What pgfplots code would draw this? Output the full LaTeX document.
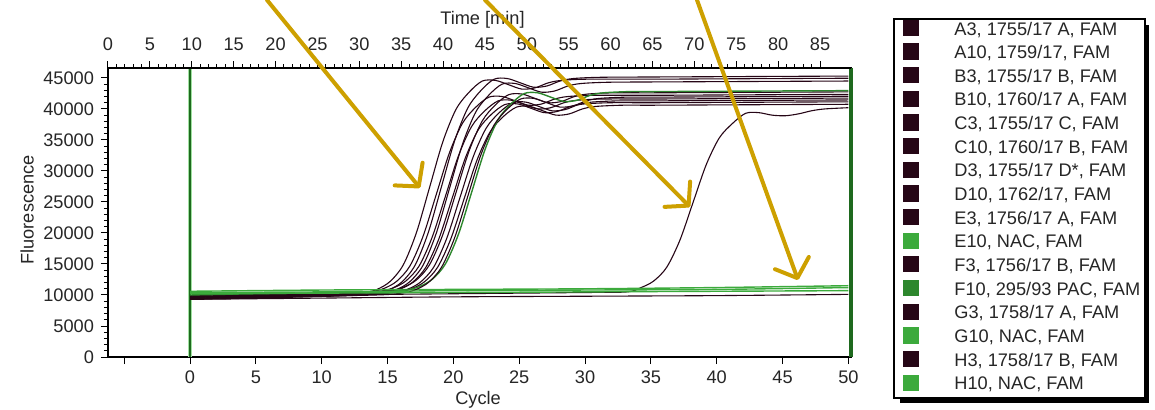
\documentclass[border=0pt]{standalone}
\usepackage{fontspec}
\setmainfont{Liberation Sans}
\usepackage{pgfplots}
\pgfplotsset{compat=1.18}
\usetikzlibrary{arrows.meta}

\definecolor{curve}{RGB}{38,6,22}
\definecolor{nac}{RGB}{60,170,60}
\definecolor{pac}{RGB}{45,135,45}
\definecolor{gline}{RGB}{30,105,30}
\definecolor{lgreen}{RGB}{160,225,160}
\definecolor{gold}{RGB}{205,160,0}
\newcommand{\fs}{\fontsize{9.1}{11}\selectfont}

\begin{document}
\begin{tikzpicture}
\useasboundingbox (-54pt,-26pt) rectangle (523.5pt,178.5pt);
% legend shadow
\fill[black] (396pt,-23pt) rectangle (520.5pt,166pt);
\begin{axis}[
  scale only axis, width=371.5pt, height=144.5pt,
  xmin=-6.23, xmax=50.2, ymin=0, ymax=46600,
  clip=false,
  axis line style={line width=1.3pt, black},
  tick pos=left, tick align=outside,
  major tick length=3.5pt, minor tick length=2pt,
  tick style={black, line width=0.5pt},
  xtick={-5,0,...,50},
  xticklabels={,0,5,10,15,20,25,30,35,40,45,50},
  ytick={0,5000,...,45000}, minor y tick num=4,
  scaled y ticks=false,
  yticklabel style={/pgf/number format/1000 sep={}},
  tick label style={font=\fs, text=black!85},
  /pgf/number format/assume math mode=true,
  xlabel={Cycle}, ylabel={Fluorescence},
  label style={font=\fs, text=black!85},
  xlabel style={at={(axis description cs:0.498,-0.149)}, anchor=center},
  ylabel style={at={(axis description cs:-0.109,0.509)}, anchor=center},
  legend cell align=left,
  legend image code/.code={\path (0pt,0pt); \fill[#1] (2pt,-2.25pt) rectangle (9.5pt,5.25pt);},
  legend style={at={(axis description cs:1.0565,1.173)}, anchor=north west,
    draw=black, line width=1pt, fill=white, font=\fs, text=black!85,
    inner xsep=2.5pt, inner ysep=0pt,
    nodes={inner sep=0pt, text height=8pt, text depth=3.83pt},
    row sep=0pt,
    /tikz/every odd column/.append style={column sep=17.5pt}},
]
% threshold / range markers
\addplot[forget plot, lgreen, line width=2.4pt] coordinates {(0,0) (0,46600)};
\addplot[forget plot, gline, line width=0.9pt] coordinates {(0,0) (0,46600)};
\addplot[forget plot, gline, line width=2.2pt] coordinates {(50.2,0) (50.2,46600)};

% A3
\addplot[curve, smooth, line width=0.55pt] coordinates {
  (0,9500)(5,9700)(11.2,10000)(13.2,10350)(14.2,10900)(15.2,12190)(16.2,14870)
  (17.2,20090)(18.2,27400)(19.2,34710)(20.2,39930)(21.2,42710)(22.2,44500)
  (23.2,44600)(24.2,43900)(25.2,43200)(26.2,43400)(27.2,44200)(28.2,44600)
  (30.2,44800)(35,44800)(40,44850)(45,44900)(50,44950)};
\addlegendentry{A3, 1755/17 A, FAM}
% A10
\addplot[curve, smooth, line width=0.55pt] coordinates {
  (0,9700)(5,9900)(11.7,10200)(13.7,10520)(14.7,11030)(15.7,12220)(16.7,14680)
  (17.7,19480)(18.7,26200)(19.7,32920)(20.7,37720)(21.7,40280)(22.7,41900)
  (23.7,42000)(24.7,41300)(25.7,40600)(26.7,40800)(27.7,41600)(28.7,42000)
  (30.7,42200)(35,42200)(40,42250)(45,42300)(50,42350)};
\addlegendentry{A10, 1759/17, FAM}
% B3
\addplot[curve, smooth, line width=0.55pt] coordinates {
  (0,9300)(5,9500)(12.1,9900)(14.1,10250)(15.1,10820)(16.1,12120)(17.1,14830)
  (18.1,20110)(19.1,27500)(20.1,34890)(21.1,40170)(22.1,42990)(23.1,44800)
  (24.1,44900)(25.1,44200)(26.1,43500)(27.1,43700)(28.1,44500)(29.1,44900)
  (31.1,45100)(35,45150)(40,45200)(45,45250)(50,45300)};
\addlegendentry{B3, 1755/17 B, FAM}
% B10
\addplot[curve, smooth, line width=0.55pt] coordinates {
  (0,9800)(5,10000)(12.4,10300)(14.4,10610)(15.4,11110)(16.4,12270)(17.4,14680)
  (18.4,19380)(19.4,25950)(20.4,32520)(21.4,37220)(22.4,39720)(23.4,41300)
  (24.4,41400)(25.4,40700)(26.4,40000)(27.4,40200)(28.4,41000)(29.4,41400)
  (31.4,41600)(35,41600)(40,41650)(45,41700)(50,41750)};
\addlegendentry{B10, 1760/17 A, FAM}
% C3
\addplot[curve, smooth, line width=0.55pt] coordinates {
  (0,9400)(5,9600)(12.7,10000)(14.7,10340)(15.7,10890)(16.7,12160)(17.7,14800)
  (18.7,19950)(19.7,27150)(20.7,34350)(21.7,39500)(22.7,42240)(23.7,44000)
  (24.7,44100)(25.7,43400)(26.7,42700)(27.7,42900)(28.7,43700)(29.7,44100)
  (31.7,44300)(35,44350)(40,44400)(45,44450)(50,44500)};
\addlegendentry{C3, 1755/17 C, FAM}
% C10
\addplot[curve, smooth, line width=0.55pt] coordinates {
  (0,9600)(5,9800)(12.9,10100)(14.9,10410)(15.9,10900)(16.9,12050)(17.9,14430)
  (18.9,19060)(19.9,25550)(20.9,32040)(21.9,36670)(22.9,39150)(23.9,40700)
  (24.9,40800)(25.9,40100)(26.9,39400)(27.9,39600)(28.9,40400)(29.9,40800)
  (31.9,41000)(35,41000)(40,41050)(45,41100)(50,41150)};
\addlegendentry{C10, 1760/17 B, FAM}
% D3 (late)
\addplot[curve, smooth, line width=0.55pt] coordinates {
  (0,9600)(5,9800)(10,10000)(20,10200)(30,10400)(33.2,10500)(34.2,11150)
  (35.2,12230)(36.2,14460)(37.2,18810)(38.2,24900)(39.2,30990)(40.2,35340)
  (41.2,37660)(42.2,39300)(43.2,39400)(44.2,39000)(45.2,38900)(46.2,39200)
  (47.2,39700)(48.2,40000)(50,40200)};
\addlegendentry{D3, 1755/17 D*, FAM}
% D10
\addplot[curve, smooth, line width=0.55pt] coordinates {
  (0,9900)(5,10100)(13.2,10400)(15.2,10720)(16.2,11240)(17.2,12430)(18.2,14910)
  (19.2,19740)(20.2,26500)(21.2,33260)(22.2,38090)(23.2,40670)(24.2,42300)
  (25.2,42400)(26.2,41700)(27.2,41000)(28.2,41200)(29.2,42000)(30.2,42400)
  (32.2,42600)(35,42600)(40,42650)(45,42700)(50,42750)};
\addlegendentry{D10, 1762/17, FAM}
% E3
\addplot[curve, smooth, line width=0.55pt] coordinates {
  (0,9500)(5,9700)(13.5,10100)(15.5,10410)(16.5,10910)(17.5,12070)(18.5,14470)
  (19.5,19150)(20.5,25700)(21.5,32250)(22.5,36930)(23.5,39430)(24.5,41000)
  (25.5,41100)(26.5,40400)(27.5,39700)(28.5,39900)(29.5,40700)(30.5,41100)
  (32.5,41300)(35,41300)(40,41350)(45,41400)(50,41450)};
\addlegendentry{E3, 1756/17 A, FAM}
% E10
\addplot[nac, smooth, line width=0.7pt] coordinates {
  (0,10600)(10,10800)(20,10900)(30,11000)(40,11200)(50,11500)};
\addlegendentry{E10, NAC, FAM}
% F3
\addplot[curve, smooth, line width=0.55pt] coordinates {
  (0,9700)(5,9900)(13.8,10200)(15.8,10500)(16.8,10990)(17.8,12120)(18.8,14460)
  (19.8,19020)(20.8,25400)(21.8,31780)(22.8,36340)(23.8,38780)(24.8,40300)
  (25.8,40400)(26.8,39700)(27.8,39000)(28.8,39200)(29.8,40000)(30.8,40400)
  (32.8,40600)(35,40600)(40,40650)(45,40700)(50,40750)};
\addlegendentry{F3, 1756/17 B, FAM}
% F10
\addplot[pac, smooth, line width=0.7pt] coordinates {
  (0,10000)(5,10200)(14.4,10500)(16.4,10820)(17.4,11340)(18.4,12540)(19.4,15020)
  (20.4,19870)(21.4,26650)(22.4,33430)(23.4,38280)(24.4,40860)(25.4,42500)
  (26.4,42600)(27.4,41900)(28.4,41200)(29.4,41400)(30.4,42200)(31.4,42600)
  (33.4,42800)(35,42800)(40,42850)(45,42900)(50,42950)};
\addlegendentry{F10, 295/93 PAC, FAM}
% G3
\addplot[curve, smooth, line width=0.55pt] coordinates {
  (0,9400)(5,9600)(14.1,10000)(16.1,10320)(17.1,10830)(18.1,12010)(19.1,14470)
  (20.1,19250)(21.1,25950)(22.1,32650)(23.1,37430)(24.1,39990)(25.1,41600)
  (26.1,41700)(27.1,41000)(28.1,40300)(29.1,40500)(30.1,41300)(31.1,41700)
  (33.1,41900)(35,41900)(40,41950)(45,42000)(50,42050)};
\addlegendentry{G3, 1758/17 A, FAM}
% G10
\addplot[nac, smooth, line width=0.7pt] coordinates {
  (0,10400)(10,10500)(20,10700)(30,10800)(40,10900)(50,11200)};
\addlegendentry{G10, NAC, FAM}
% H3
\addplot[curve, smooth, line width=0.55pt] coordinates {
  (0,9300)(10,9500)(20,9700)(30,9800)(40,9900)(50,10100)};
\addlegendentry{H3, 1758/17 B, FAM}
% H10
\addplot[nac, smooth, line width=0.7pt] coordinates {
  (0,10200)(10,10300)(20,10400)(30,10500)(40,10600)(50,10700)};
\addlegendentry{H10, NAC, FAM}
\end{axis}

% top time axis
\begin{axis}[
  scale only axis, width=371.5pt, height=144.5pt,
  xmin=0, xmax=88.7, ymin=0, ymax=1,
  axis x line*=top, axis y line=none,
  axis line style={line width=1.3pt, black},
  tick align=outside,
  major tick length=3.5pt, minor tick length=2pt,
  tick style={black, line width=0.5pt},
  xtick={0,5,...,85}, minor x tick num=4,
  tick label style={font=\fs, text=black!85},
  xticklabel style={yshift=1.5pt},
  /pgf/number format/assume math mode=true,
  xlabel={Time [min]},
  label style={font=\fs, text=black!85},
  xlabel style={at={(axis description cs:0.504,1.166)}, anchor=center},
]
\addplot[draw=none, forget plot] coordinates {(10,0.5)};
\end{axis}

% annotation arrows
\begin{scope}[gold, line width=2pt, line cap=round]
\draw[-{Straight Barb[length=8pt,width=18pt,round]}] (79.5pt,178.5pt) -- (156pt,84.5pt);
\draw[-{Straight Barb[length=8pt,width=18pt,round]}] (188.5pt,178.5pt) -- (291pt,75pt);
\draw[-{Straight Barb[length=8pt,width=18pt,round]}] (294.5pt,178.5pt) -- (345pt,38.5pt);
\end{scope}
\end{tikzpicture}
\end{document}
